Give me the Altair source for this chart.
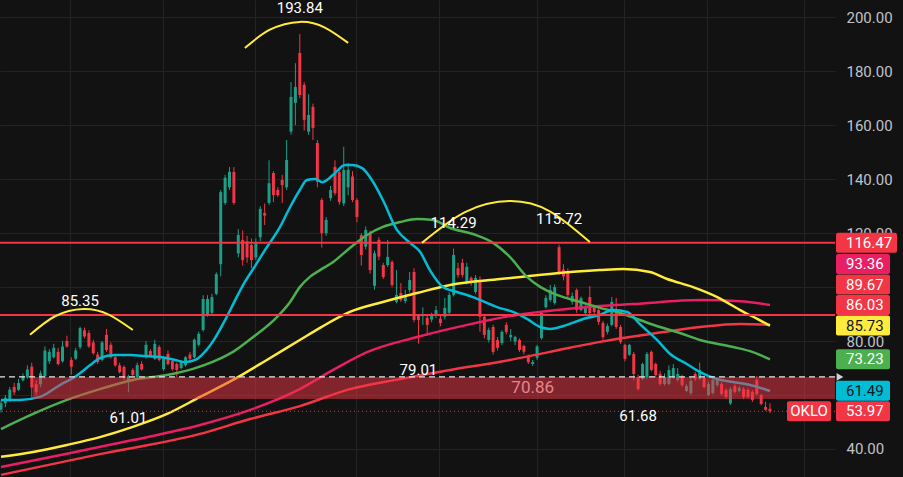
import altair as alt
import pandas as pd

# ---------------- data ----------------
opens = [54.5, 57, 58.5, 63, 62, 65.5, 66.5, 70.5, 64, 64,
         67, 72.5, 74, 76, 72.5, 80, 73, 73.5, 77.8, 84,
         83, 79.5, 75, 73, 82.3, 78.6, 74, 71, 70.4, 65,
         69.3, 66.7, 71.5, 74, 76.3, 73.4, 77.8, 69.6, 75.2, 72.6,
         71.5, 70, 71, 75, 74, 78.6, 84.1, 90, 90.5, 97.5,
         108.5, 131.2, 137, 142.7, 112.5, 117.5, 117, 115.6, 111, 118.5,
         127.5, 131.2, 142.3, 136, 139.7, 137, 157.6, 168.3, 186.8, 175,
         157.6, 166.8, 153.4, 132.3, 120, 133, 144.5, 142.6, 131, 137,
         141, 132.3, 119.3, 115, 120, 100.5, 117.5, 108.2, 108.2, 109.3,
         94.5, 97.8, 94.8, 98.9, 105.6, 89.7, 89.2, 88.6, 88, 89.5,
         88.2, 89, 90.5, 97.1, 107, 109, 101.9, 103.4, 98.2, 102.6,
         89, 80.4, 85.2, 80.4, 79.3, 86, 81.4, 79.8, 80.4, 78.2,
         74.1, 71.5, 73.8, 81.1, 92.6, 95.2, 94.1, 114.8, 106.5, 105.8,
         94.5, 98.9, 91.5, 90.4, 96.3, 92.6, 91.5, 86.7, 83.4, 86,
         90.4, 85.2, 78.6, 74.9, 75.2, 66.7, 66, 66.7, 76, 71.5,
         67.8, 64.1, 64.1, 66.7, 65.6, 66.7, 61.5, 60.7, 67.8, 66,
         66.3, 60, 60.7, 63.7, 64.1, 61.9, 56.9, 63.3, 61.5, 62.2,
         61.9, 61.1, 65.6, 60, 55.6, 54.9]
highs = [58, 60, 63, 64.5, 66, 68, 71, 72, 65.5, 69,
         78, 77, 79, 77.5, 80, 82, 74, 77.5, 85.35, 85.0,
         84, 80.5, 76, 80, 84.5, 79.5, 75, 72, 71, 67.5,
         70, 72, 72.5, 80, 77, 80.5, 78.5, 74.5, 76.5, 73,
         72, 73, 74.5, 76, 81, 83.5, 97, 97, 97.5, 105.5,
         136, 141.6, 144.5, 144.5, 121.5, 121, 119, 118, 118, 130,
         131, 147, 143, 137, 141.6, 154.5, 176, 183, 193.84, 176,
         171.5, 168, 154.5, 133, 126, 137.5, 147, 144, 152, 146,
         143, 133, 120, 122.5, 121, 113.5, 118.5, 109, 117.5, 110,
         106.3, 101.5, 99, 105.6, 107, 90, 92.5, 89.5, 90.5, 93,
         90, 96, 98, 114.29, 109, 110.5, 109, 104, 104.5, 104,
         90, 85, 86, 81.5, 84, 87, 84.5, 82, 81, 78.6,
         75, 73, 78.6, 91, 97, 100.8, 101, 115.72, 108.5, 107,
         98, 99.5, 96.5, 93.5, 100.4, 93.5, 92, 87.5, 86.5, 96.3,
         96, 86, 79, 79, 76, 67.5, 72, 76, 76.5, 72,
         69, 68, 71, 71.5, 70, 67.5, 64, 66.5, 68.5, 72,
         67, 65, 67, 66.5, 65, 62.5, 63, 64, 63.3, 63,
         62.5, 61.8, 67, 60.5, 57.5, 57]
lows = [53.5, 55.5, 57.5, 60, 61.5, 65, 66, 59, 60, 63,
        66, 71.5, 73.5, 71, 72, 77.5, 67.5, 73, 77, 81,
        77.5, 75, 71.5, 72.5, 76, 73.5, 70.5, 68, 65.5, 61.01,
        67, 66, 69, 73.5, 74, 73, 72.5, 69, 71, 69,
        66.7, 69.5, 70.5, 72.5, 73.5, 78, 83.5, 89, 90, 97,
        104, 130.5, 136, 130.5, 111, 108, 109, 107, 110, 117,
        123, 130.5, 131.5, 133.5, 131.2, 136, 156.5, 160, 170, 158,
        156.5, 154.5, 137, 114.6, 119, 132, 134, 130.5, 130, 134,
        131.5, 124, 108, 114, 105, 99, 110, 103, 107.5, 100,
        94, 94.5, 94, 98, 87, 79.01, 86, 82, 87, 88.5,
        85.5, 88, 90, 96.5, 103.5, 103.5, 101, 100.5, 97.5, 83.5,
        81, 79.5, 75, 76.5, 78.5, 82.5, 80, 78.5, 76, 75,
        71.5, 70.8, 73, 80.5, 92, 94.5, 93.5, 104.5, 102.5, 96,
        93.5, 90.5, 91, 89.5, 89.5, 90, 86, 80.5, 82.5, 85.5,
        84.5, 79, 72.5, 74.5, 65.5, 61.68, 65.5, 66, 68.8, 66.5,
        63.5, 63.5, 63.7, 66, 65, 63, 61, 60, 65.2, 65.5,
        62.5, 59.5, 60.3, 63, 59.8, 58.6, 56.3, 60.5, 61, 58.5,
        58.8, 57.5, 59.8, 56.2, 54.2, 53.3]
closes = [57, 59, 62, 61, 64.5, 67, 69.5, 62.8, 61, 68,
          76.5, 76, 77.5, 71.5, 78, 78, 70.5, 76.5, 84.8, 81.7,
          78, 75.5, 72.2, 79.5, 76.7, 74, 71, 68.5, 66.3, 67,
          67.4, 71.1, 69.5, 78.6, 74.5, 79, 73, 74, 71.5, 69.6,
          69.3, 72.2, 74, 73.4, 80.5, 82.7, 95.6, 95.6, 96.3, 104.8,
          135.2, 140.5, 142.7, 131.2, 119.3, 110, 111, 110, 116.3, 129,
          126.5, 138.5, 134.1, 134.1, 137.8, 147.1, 170.5, 174.2, 171.2, 162,
          163.8, 159, 139, 120, 124.9, 136, 134.8, 131.5, 143.4, 143.5,
          132.3, 126, 111.9, 121.2, 106.3, 112.5, 111.3, 103.7, 111.2, 100.8,
          97.1, 95.2, 97.1, 102.6, 87.8, 87.8, 89.7, 86, 89.3, 91.5,
          86.7, 92.3, 97.1, 111.9, 104.5, 104.5, 107.5, 101.5, 103.4, 89,
          82.3, 84.1, 76, 77.5, 83.4, 83.4, 82.3, 81.5, 76.7, 76,
          72.2, 72.2, 78, 90.4, 96, 98.9, 100, 105.2, 104, 97.1,
          96.7, 91.5, 95.9, 92.6, 90.4, 90.8, 87.1, 81.5, 85.6, 94.5,
          85.2, 79.7, 73.4, 78.6, 67.8, 62.2, 71.5, 75.2, 69.3, 67.4,
          64.1, 66.7, 69.3, 70, 67.8, 63.7, 63.3, 65.2, 66, 69.3,
          63, 64.1, 65.6, 65.6, 60.4, 59.3, 62.2, 61.1, 62.6, 59.3,
          59.3, 58.2, 60.4, 56.7, 54.5, 53.97]

# moving averages (candle index, value)
cyan_idx = [0, 4.3, 8.9, 13.4, 16.8, 20.3, 22.5, 25.9, 29.4, 32.8, 36.2, 39.6, 41.9, 44.2, 46.4,
            48.7, 51.0, 53.3, 55.5, 57.8, 60.1, 63.5, 65.8, 68.0, 69.6, 71.5, 73.1, 75.6, 78.3,
            79.9, 82.2, 84.4, 86.9, 90.1, 93.1, 95.4, 97.6, 100.6, 103.8, 107.4, 112.9, 116.5,
            119.7, 122.7, 124.9, 128.8, 132.5, 136.3, 139.3, 142.5, 145.4, 149.3, 152.3, 156.1,
            159.1, 163.0, 166.6, 170.5, 175.0]
cyan_val = [58.2, 58.2, 59.3, 63.7, 66.7, 71.1, 73.7, 74.8, 74.8, 74.5, 74.1, 73.0, 72.2, 73.0, 76.0,
            81.1, 87.8, 95.2, 101.9, 107.8, 113.8, 122.3, 129.7, 136.0, 139.7, 140.1, 138.9, 141.6,
            145.3, 145.3, 144.1, 139.7, 132.3, 121.2, 116.4, 113.0, 106.3, 100.0, 98.2, 96.3, 92.6,
            90.8, 88.2, 85.2, 84.5, 86.0, 88.2, 89.7, 91.5, 90.8, 86.3, 80.4, 75.2, 71.5, 68.5,
            65.9, 64.8, 63.7, 61.49]
green_idx = [0, 7.3, 15.0, 22.5, 30.0, 37.8, 43.7, 49.2, 52.8, 57.4, 62.8, 65.8, 68.0, 70.3, 72.6,
             75.6, 79.4, 83.3, 86.9, 90.8, 94.7, 98.3, 102.2, 107.4, 112.0, 115.8, 119.7, 122.7,
             126.5, 131.8, 136.3, 140.9, 145.4, 150.0, 154.5, 159.1, 166.6, 171.1, 175.0]
green_val = [47.4, 53.0, 58.2, 62.2, 65.6, 67.4, 69.7, 73.0, 76.0, 81.5, 88.9, 94.5, 100.0, 103.8,
             106.3, 109.3, 114.5, 119.3, 122.3, 124.1, 125.2, 124.9, 121.9, 119.7, 116.4, 111.2,
             103.8, 100.1, 97.1, 94.5, 92.3, 90.4, 87.8, 85.2, 83.0, 80.4, 77.8, 75.9, 73.23]
yellow_idx = [0, 7.3, 15.0, 22.5, 30.0, 37.8, 45.3, 52.8, 60.5, 68.0, 72.6, 79.4, 86.9, 94.7, 102.2,
              113.6, 124.9, 136.3, 141.6, 147.7, 151.6, 157.5, 163.0, 168.2, 172.1, 175.0]
yellow_val = [37.1, 38.9, 41.5, 44.4, 48.2, 53.0, 59.3, 65.6, 73.0, 80.4, 84.9, 90.8, 94.5, 97.8,
              100.8, 103.0, 104.9, 106.3, 106.7, 105.6, 103.0, 100.0, 96.3, 91.5, 88.2, 85.73]
pink_idx = [0, 15.0, 30.0, 45.3, 56.7, 68.0, 75.6, 83.3, 94.7, 106.1, 117.4, 128.8, 136.3, 143.8,
            159.1, 168.2, 175.0]
pink_val = [33.3, 38.2, 43.3, 48.9, 54.5, 62.2, 69.3, 75.9, 81.5, 86.0, 89.7, 91.9, 93.0, 93.7,
            95.2, 94.8, 93.36]
red_idx = [0, 22.5, 45.3, 56.7, 68.0, 79.4, 90.8, 102.2, 113.6, 124.9, 136.3, 147.7, 159.1, 168.2, 175.0]
red_val = [30.4, 38.1, 45.6, 51.1, 55.9, 62.2, 65.9, 69.3, 72.3, 76.0, 79.7, 82.6, 85.2, 86.3, 86.03]

grid_idx = [15.7, 36.9, 57.8, 80.8, 99.7, 122.0, 141.8, 160.7, 182.7]
y_ticks = [40, 60, 80, 100, 120, 140, 160, 180, 200]
y_ticks_hidden = [60, 100]   # fully covered by price boxes in the reference

level_lines = [116.47, 89.67]
zone_low, zone_high, zone_start = 58.5, 66.7, 7.3
zone_text, zone_text_idx = "70.86", 121
dashed_level = 66.7
last_price = 53.97
ticker = "OKLO"

ext_idx = [68, 18, 103, 127, 95, 29, 145]
ext_val = [193.84, 85.35, 114.29, 115.72, 79.01, 61.01, 61.68]
ext_kind = ["high", "high", "high", "high", "low", "low", "low"]

arc1_idx = [55.5, 61.2, 68.0, 73.7, 79.0]
arc1_val = [188.6, 195.4, 198.3, 196.2, 190.5]
arc2_idx = [6.6, 12.3, 18.7, 24.4, 30.0]
arc2_val = [82.3, 89.2, 91.9, 89.9, 84.1]
arc3_idx = [95.8, 105.6, 115.8, 124.9, 134.0]
arc3_val = [116.4, 127.8, 131.9, 128.1, 116.7]

pl_text = ["116.47", "93.36", "89.67", "86.03", "85.73", "73.23", "61.49", "53.97"]
pl_val = [116.47, 93.36, 89.67, 86.03, 85.73, 73.23, 61.49, 53.97]
pl_bg = ["#f23645", "#e91e63", "#f23645", "#f23645", "#ffeb3b", "#4caf50", "#00bcd4", "#f23645"]
pl_fg = ["#ffffff", "#ffffff", "#ffffff", "#ffffff", "#131722", "#ffffff", "#131722", "#ffffff"]

# ---------------- styling ----------------
BG = "#121212"
GRID = "#232323"
UP = "#1c9e87"
DOWN = "#f23645"
YEL = "#ffeb3b"
FONT = "Roboto"
W, H = 835, 477
Y_DOM = [29.62, 206.41]
X_DOM = [-0.228, 189.8]
PX_PER_UNIT = H / (Y_DOM[1] - Y_DOM[0])

hidden_expr = " || ".join(f"datum.value == {v}" for v in y_ticks_hidden)
XS = alt.Scale(domain=X_DOM, nice=False, zero=False)
YS = alt.Scale(domain=Y_DOM, nice=False, zero=False)
AXX = alt.Axis(values=grid_idx, labels=False, ticks=False, domain=False, grid=True,
               gridColor=GRID, gridWidth=1, title=None, zindex=0)
AXY = alt.Axis(values=y_ticks, orient="right", format=".2f", grid=True, gridColor=GRID,
               gridWidth=1, ticks=False, tickSize=0, domain=False, labelAlign="left",
               labelBaseline="middle", labelPadding=11, labelFontSize=15,
               labelExpr=f"({hidden_expr}) ? '' : datum.label",
               labelColor="#c0c3ca", labelFont=FONT, title=None, zindex=0)


def X(f):
    return alt.X(f, scale=XS, axis=AXX)


def Y(f):
    return alt.Y(f, scale=YS, axis=AXY)


cdf = pd.DataFrame({"idx": list(range(len(opens))), "open": opens, "high": highs,
                    "low": lows, "close": closes})
cdf["dir"] = ["up" if c >= o else "down" for o, c in zip(opens, closes)]
ccol = alt.Color("dir:N", scale=alt.Scale(domain=["up", "down"], range=[UP, DOWN]), legend=None)

wicks = alt.Chart(cdf).mark_rule(strokeWidth=1).encode(
    x=X("idx:Q"), y=Y("low:Q"), y2="high:Q", color=ccol)
bodies = alt.Chart(cdf).transform_calculate(
    x0="datum.idx - 0.34", x1="datum.idx + 0.34"
).mark_rect().encode(x=X("x0:Q"), x2="x1:Q", y=Y("open:Q"), y2="close:Q", color=ccol)


def ma_layer(idx, val, color):
    d = pd.DataFrame({"i": idx, "v": val})
    return alt.Chart(d).mark_line(color=color, strokeWidth=2.5, interpolate="monotone").encode(
        x=X("i:Q"), y=Y("v:Q"))


mas = [ma_layer(red_idx, red_val, "#f23645"), ma_layer(pink_idx, pink_val, "#e91e63"),
       ma_layer(yellow_idx, yellow_val, YEL), ma_layer(green_idx, green_val, "#4caf50"),
       ma_layer(cyan_idx, cyan_val, "#00bcd4")]

zone = alt.Chart(pd.DataFrame({"s": [zone_start], "lo": [zone_low], "hi": [zone_high]})).mark_rect(
    color=DOWN, opacity=0.5).encode(x=X("s:Q"), x2=alt.value(W), y=Y("lo:Q"), y2="hi:Q")

zone_lbl = alt.Chart(pd.DataFrame({"i": [zone_text_idx], "v": [(zone_low + zone_high) / 2],
                                   "t": [zone_text]})).mark_text(
    color="#e8848d", fontSize=17, font=FONT, baseline="middle").encode(
    x=X("i:Q"), y=Y("v:Q"), text="t:N")

dashed = alt.Chart(pd.DataFrame({"v": [dashed_level]})).mark_rule(
    color="#e6e6e6", strokeWidth=1.2, strokeDash=[6, 4]).encode(y=Y("v:Q"))

levels = alt.Chart(pd.DataFrame({"v": level_lines})).mark_rule(color=DOWN, strokeWidth=2).encode(
    y=Y("v:Q"))

dotted = alt.Chart(pd.DataFrame({"v": [last_price]})).mark_rule(
    color=DOWN, strokeWidth=1, strokeDash=[1, 3]).encode(y=Y("v:Q"))

arc_rows = []
for k, (ii, vv) in enumerate([(arc1_idx, arc1_val), (arc2_idx, arc2_val), (arc3_idx, arc3_val)]):
    for a, b in zip(ii, vv):
        arc_rows.append({"arc": k, "i": a, "v": b})
arcs = alt.Chart(pd.DataFrame(arc_rows)).mark_line(
    color=YEL, strokeWidth=2, interpolate="natural").encode(
    x=X("i:Q"), y=Y("v:Q"), detail="arc:N")

edf = pd.DataFrame({"i": ext_idx, "v": ext_val, "k": ext_kind})
edf["t"] = [f"{v:.2f}" for v in ext_val]
ext_hi = alt.Chart(edf).transform_filter("datum.k == 'high'").mark_text(
    color="#ffffff", fontSize=15, font=FONT, dy=-26, baseline="middle").encode(
    x=X("i:Q"), y=Y("v:Q"), text="t:N")
ext_lo = alt.Chart(edf).transform_filter("datum.k == 'low'").mark_text(
    color="#ffffff", fontSize=15, font=FONT, dy=26, baseline="middle").encode(
    x=X("i:Q"), y=Y("v:Q"), text="t:N")

# price-scale labels: push overlapping boxes upward, from the lowest value up
gap = 20.5 / PX_PER_UNIT
half = 10 / PX_PER_UNIT
order = sorted(range(len(pl_val)), key=lambda j: pl_val[j])
pos = [0.0] * len(pl_val)
prev = None
for j in order:
    p = pl_val[j] if prev is None else max(pl_val[j], prev + gap)
    pos[j] = p
    prev = p
pdf = pd.DataFrame({"t": pl_text, "pos": pos, "bg": pl_bg, "fg": pl_fg})
pdf["top"] = pdf["pos"] + half
pdf["bot"] = pdf["pos"] - half
pdf["wide"] = [len(t) > 5 for t in pl_text]

box_n = alt.Chart(pdf).transform_filter("!datum.wide").mark_rect(cornerRadius=2).encode(
    x=alt.value(836), x2=alt.value(890), y=Y("top:Q"), y2="bot:Q",
    color=alt.Color("bg:N", scale=None))
box_w = alt.Chart(pdf).transform_filter("datum.wide").mark_rect(cornerRadius=2).encode(
    x=alt.value(836), x2=alt.value(897), y=Y("top:Q"), y2="bot:Q",
    color=alt.Color("bg:N", scale=None))
box_t = alt.Chart(pdf).mark_text(align="left", baseline="middle", fontSize=15, font=FONT).encode(
    x=alt.value(846), y=Y("pos:Q"), text="t:N", color=alt.Color("fg:N", scale=None))

last_pos = pos[pl_val.index(last_price)]
tdf = pd.DataFrame({"t": [ticker], "pos": [last_pos], "top": [last_pos + half], "bot": [last_pos - half]})
tick_box = alt.Chart(tdf).mark_rect(cornerRadius=2, color=DOWN).encode(
    x=alt.value(787), x2=alt.value(831), y=Y("top:Q"), y2="bot:Q")
tick_txt = alt.Chart(tdf).mark_text(color="#ffffff", fontSize=15, font=FONT, baseline="middle").encode(
    x=alt.value(809), y=Y("pos:Q"), text="t:N")

marker = alt.Chart(pd.DataFrame({"v": [dashed_level]})).mark_point(
    shape="triangle-right", filled=True, size=60, color="#d0d0d0", opacity=1).encode(
    x=alt.value(840), y=Y("v:Q"))

chart = alt.layer(
    wicks, bodies, *mas, zone, dashed, levels, dotted, arcs, zone_lbl, ext_hi, ext_lo,
    box_n, box_w, box_t, tick_box, tick_txt, marker
).properties(
    width=W, height=H, background=BG,
    padding={"left": 0, "top": 0, "right": 68, "bottom": 0},
    autosize=alt.AutoSizeParams(type="none"),
).configure_view(strokeWidth=0, fill=BG)

chart.save("out.html", embed_options={"renderer": "svg", "actions": False})
